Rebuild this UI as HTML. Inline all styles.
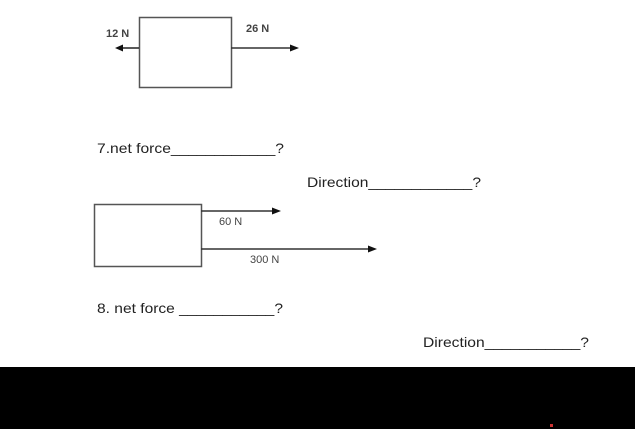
<!DOCTYPE html>
<html><head><style>html,body{margin:0;padding:0;background:#fff}svg{display:block}</style></head>
<body>
<svg width="635" height="429" xmlns="http://www.w3.org/2000/svg" font-family="Liberation Sans, sans-serif">
<rect width="635" height="429" fill="#fff"/>
<rect x="139.5" y="17.5" width="92" height="70" fill="none" stroke="#555" stroke-width="1.5"/>
<line x1="139" y1="48" x2="122" y2="48" stroke="#222" stroke-width="1.5"/>
<polygon points="115,48 123,44.5 123,51.5" fill="#111"/>
<line x1="231" y1="48" x2="291" y2="48" stroke="#333" stroke-width="1.5"/>
<polygon points="299,48 290,44.5 290,51.5" fill="#111"/>
<text x="106" y="37" font-size="11" font-weight="bold" fill="#444">12 N</text>
<text x="246" y="32" font-size="11" font-weight="bold" fill="#444">26 N</text>
<rect x="94.5" y="204.5" width="107" height="62" fill="none" stroke="#555" stroke-width="1.5"/>
<line x1="201" y1="211" x2="273" y2="211" stroke="#333" stroke-width="1.5"/>
<polygon points="281,211 272,207.5 272,214.5" fill="#111"/>
<line x1="201" y1="249" x2="369" y2="249" stroke="#333" stroke-width="1.5"/>
<polygon points="377,249 368,245.5 368,252.5" fill="#111"/>
<text x="219" y="225" font-size="11" fill="#444">60 N</text>
<text x="250" y="263" font-size="11" fill="#444">300 N</text>
<g font-size="14" fill="#222">
<text x="97" y="153" textLength="187" lengthAdjust="spacingAndGlyphs">7.net force____________?</text>
<text x="307" y="187" textLength="174" lengthAdjust="spacingAndGlyphs">Direction____________?</text>
<text x="97" y="313" textLength="186" lengthAdjust="spacingAndGlyphs">8. net force ___________?</text>
<text x="423" y="347" textLength="166" lengthAdjust="spacingAndGlyphs">Direction___________?</text>
</g>
<rect x="0" y="367" width="635" height="62" fill="#000"/>
<rect x="550" y="424" width="3" height="3" fill="#c33"/>
</svg>
</body></html>
